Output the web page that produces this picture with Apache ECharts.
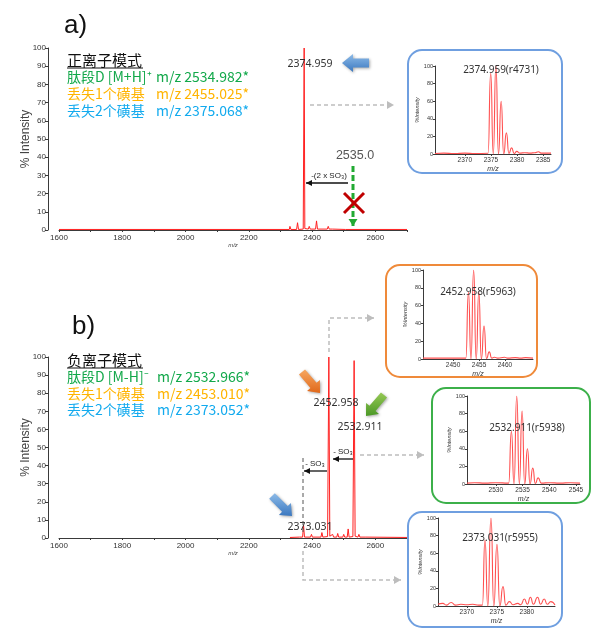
<!DOCTYPE html>
<html><head><meta charset="utf-8">
<script src="https://cdn.jsdelivr.net/npm/echarts@6/dist/echarts.min.js"></script>
<style>html,body{margin:0;padding:0;background:#fff}#c{width:600px;height:632px}</style>
</head><body><div id="c"></div>
<script>
// ---- data (m/z, % intensity) ----
const specA = [[1600,0.3],[2328,0.3],[2330,2],[2333,0.3],[2351,0.3],[2354,4],[2357,0.3],[2372,0.5],[2374.959,100],[2377,0.8],[2388,0.5],[2391,2],[2394,0.5],[2411,0.5],[2414,5],[2417,0.5],[2448,0.5],[2451,2],[2454,0.5],[2464,0.5],[2467,1.5],[2470,0.3],[2506,0.3],[2509,1],[2512,0.3],[2700,0.3]];
const specB = [[2330,0.3],[2360,0.5],[2370,0.5],[2373.031,7],[2376,0.5],[2395,0.5],[2398,2],[2401,0.5],[2428,0.5],[2431,3],[2434,0.5],[2449,0.8],[2452.958,100],[2456,1],[2462,0.5],[2465,2],[2468,0.5],[2478,0.5],[2481,2.5],[2484,0.5],[2497,0.5],[2500,2],[2503,0.5],[2511,0.5],[2514,5],[2517,0.5],[2529,0.8],[2532.911,98],[2536,1],[2545,0.5],[2548,2],[2551,0.5],[2570,0.5],[2573,1],[2576,0.3],[2700,0.3]];
const insetA = [[2364.3,0.5],[2366,1],[2368,0.5],[2370,1],[2372,0.5],[2374.45,0.8],[2374.96,92],[2375.45,0],[2375.96,100],[2376.45,0],[2376.96,60],[2377.45,0],[2377.96,24],[2378.45,0.5],[2378.96,7],[2379.45,0.5],[2379.96,3],[2380.5,1],[2381.5,1.5],[2382.5,1],[2383.4,1.5],[2384.1,2.5],[2384.6,1],[2386.5,1]];
const insetB1 = [[2444.2,1],[2446,1],[2448,1],[2450,1],[2452.45,1],[2452.96,75],[2453.45,0],[2453.96,100],[2454.45,0],[2454.96,75],[2455.45,0],[2455.96,37],[2456.45,0.5],[2456.96,8],[2457.45,1],[2457.96,2],[2458.6,1],[2459.9,2],[2460.5,1],[2462,1.5],[2463,1],[2464,1.5],[2465.4,1]];
const insetB2 = [[2524.6,1],[2526,1.5],[2528,1],[2530,1.5],[2532.4,1],[2532.91,60],[2533.4,0],[2533.91,100],[2534.4,0],[2534.91,83],[2535.4,0],[2535.91,40],[2536.4,0],[2536.91,18],[2537.4,0.5],[2537.91,7],[2538.5,1],[2540,1.5],[2542,1],[2544,1.5],[2545.75,1]];
const insetB3 = [[2365.2,2],[2366,3],[2366.6,1],[2367.4,4],[2368.1,1],[2369,2],[2370,1.5],[2371,2],[2372,1],[2372.6,1],[2373.03,75],[2373.5,0],[2374.03,100],[2374.5,0],[2375.03,70],[2375.5,0],[2376.03,22],[2376.5,1],[2377.1,5],[2377.7,1.5],[2378.5,3],[2379,1.5],[2379.6,8],[2380.1,2],[2380.6,10],[2381.1,2],[2381.8,10],[2382.3,2],[2382.9,8],[2383.4,2],[2384,5],[2384.7,1]];
const mainTicks = [1600,1800,2000,2200,2400,2600];
const ticksA = [2370,2375,2380,2385];
const ticksB1 = [2450,2455,2460];
const ticksB2 = [2530,2535,2540,2545];
const ticksB3 = [2370,2375,2380];
const peakLabelsA = ['2374.959'];
const peakLabelsB = ['2452.958','2532.911','2373.031'];
const insetTitles = ['2374.959(r4731)','2452.958(r5963)','2532.911(r5938)','2373.031(r5955)'];

const chart = echarts.init(document.getElementById('c'), null, {renderer:'canvas'});
const AX = '#3a3a3a';
function mainX(idx){return {type:'value',gridIndex:idx,min:1600,max:2700,interval:100,
  axisLine:{lineStyle:{color:AX,width:1}},axisTick:{length:2,lineStyle:{color:AX}},
  axisLabel:{interval:1,fontSize:8,color:'#333',fontFamily:'Liberation Sans',margin:4,formatter:v=>mainTicks.includes(v)?String(v):''},
  splitLine:{show:false},
  name:'m/z',nameLocation:'middle',nameGap:12,nameMoveOverlap:false,nameTextStyle:{fontSize:6,fontStyle:'italic',color:'#444',fontFamily:'Liberation Sans'}};}
function mainY(idx){return {type:'value',gridIndex:idx,min:0,max:100,interval:10,offset:11,
  axisLine:{show:true,lineStyle:{color:AX,width:1}},axisTick:{show:true,length:3,lineStyle:{color:AX}},
  axisLabel:{fontSize:8,color:'#333',fontFamily:'Liberation Sans',margin:2},splitLine:{show:false},
  name:'% Intensity',nameLocation:'middle',nameGap:16,nameMoveOverlap:false,nameRotate:90,nameTextStyle:{fontSize:12,color:'#444',fontFamily:'Liberation Sans'}};}
function insX(idx,min,max,ticks){return {type:'value',gridIndex:idx,min:min,max:max,
  axisLine:{lineStyle:{color:AX,width:1}},axisTick:{length:2,customValues:ticks,lineStyle:{color:AX}},
  axisLabel:{customValues:ticks,formatter:v=>String(v),fontSize:6.5,color:'#333',fontFamily:'Liberation Sans',margin:3},splitLine:{show:false},
  name:'m/z',nameLocation:'middle',nameGap:12,nameMoveOverlap:false,nameTextStyle:{fontSize:7,fontStyle:'italic',color:'#333',fontFamily:'Liberation Sans'}};}
function insY(idx){return {type:'value',gridIndex:idx,min:0,max:100,interval:20,
  axisLine:{show:true,lineStyle:{color:AX,width:1}},axisTick:{show:true,length:2,lineStyle:{color:AX}},
  axisLabel:{formatter:v=>String(v),fontSize:5.5,color:'#333',fontFamily:'Liberation Sans',margin:2},splitLine:{show:false},
  name:'%Intensity',nameLocation:'middle',nameGap:15,nameMoveOverlap:false,nameRotate:90,nameTextStyle:{fontSize:5.5,fontStyle:'italic',color:'#333',fontFamily:'Liberation Sans'}};}
function mainS(idx,data){return {type:'line',xAxisIndex:idx,yAxisIndex:idx,data:data,showSymbol:false,lineStyle:{color:'#ff2020',width:1},z:3};}
function insS(idx,data){return {type:'line',xAxisIndex:idx,yAxisIndex:idx,data:data,showSymbol:false,smooth:0.6,smoothMonotone:'x',lineStyle:{color:'#ff5050',width:1.1},z:3};}

// ---- annotation helpers ----
const G = [];
function txt(s,x,y,font,fill,align,extra){G.push(Object.assign({type:'text',z:10,style:{text:s,x:x,y:y,font:font,fill:fill,textAlign:align||'left',textVerticalAlign:'middle'}},extra||{}));}
function head(x2,y2,ux,uy,len,half,color){G.push({type:'polygon',z:10,shape:{points:[[x2,y2],[x2-ux*len-uy*half,y2-uy*len+ux*half],[x2-ux*len+uy*half,y2-uy*len-ux*half]]},style:{fill:color}});}
function arrowPath(pts,color,w,dash,hl,hh){
  G.push({type:'polyline',z:10,shape:{points:pts},style:{stroke:color,lineWidth:w,lineDash:dash||null,fill:null}});
  const a=pts[pts.length-2],b=pts[pts.length-1];const L=Math.hypot(b[0]-a[0],b[1]-a[1]);
  head(b[0],b[1],(b[0]-a[0])/L,(b[1]-a[1])/L,hl,hh,color);
}
function fat(x1,y1,x2,y2,sw,hw,hl,c1,c2){
  const dx=x2-x1,dy=y2-y1,L=Math.hypot(dx,dy),ux=dx/L,uy=dy/L,nx=-uy,ny=ux;
  const kx=x2-ux*hl,ky=y2-uy*hl;
  G.push({type:'polygon',z:10,shape:{points:[[x1+nx*sw/2,y1+ny*sw/2],[kx+nx*sw/2,ky+ny*sw/2],[kx+nx*hw/2,ky+ny*hw/2],[x2,y2],[kx-nx*hw/2,ky-ny*hw/2],[kx-nx*sw/2,ky-ny*sw/2],[x1-nx*sw/2,y1-ny*sw/2]]},
    style:{fill:new echarts.graphic.LinearGradient(0,0,0,1,[{offset:0,color:c1},{offset:1,color:c2}]),shadowBlur:3,shadowOffsetX:1,shadowOffsetY:1,shadowColor:'rgba(0,0,0,0.35)'}});
}
function box(x,y,w,h,color){G.push({type:'rect',z:1,shape:{x:x,y:y,width:w,height:h,r:14},style:{stroke:color,lineWidth:2,fill:'rgba(0,0,0,0)'}});}
function uline(x1,x2,y){G.push({type:'line',z:10,shape:{x1:x1,y1:y,x2:x2,y2:y},style:{stroke:'#111',lineWidth:1}});}

const CJK='"Noto Sans CJK SC"';
const GREEN='#12a84a',ORANGE='#ffb400',BLUE='#12aaee';
// panel labels
txt('a)',64,26,'26px "Liberation Sans"','#111');
txt('b)',72,327,'26px "Liberation Sans"','#111');
// legend text a
txt('正离子模式',67,60,'15px '+CJK,'#111'); uline(67,143,68);
txt('肽段D [M+H]⁺',67,77,'14px '+CJK,GREEN); txt('m/z 2534.982*',156,77,'14px '+CJK,GREEN);
txt('丢失1个磺基',67,94,'14px '+CJK,ORANGE); txt('m/z 2455.025*',156,94,'14px '+CJK,ORANGE);
txt('丢失2个磺基',67,111,'14px '+CJK,BLUE); txt('m/z 2375.068*',156,111,'14px '+CJK,BLUE);
// legend text b
txt('负离子模式',67,360,'15px '+CJK,'#111'); uline(67,143,368);
txt('肽段D [M-H]⁻',67,377,'14px '+CJK,GREEN); txt('m/z 2532.966*',157,377,'14px '+CJK,GREEN);
txt('丢失1个磺基',67,394,'14px '+CJK,ORANGE); txt('m/z 2453.010*',157,394,'14px '+CJK,ORANGE);
txt('丢失2个磺基',67,410,'14px '+CJK,BLUE); txt('m/z 2373.052*',157,410,'14px '+CJK,BLUE);
// peak labels
const LF='10.5px "Noto Sans"';
txt(peakLabelsA[0],310,64,LF,'#333','center');
txt(peakLabelsB[0],336,403,LF,'#333','center');
txt(peakLabelsB[1],360,427,LF,'#333','center');
txt(peakLabelsB[2],310,527,LF,'#333','center');
// panel a annotations
fat(369,63,342,63,9,18,11,'#8dbbe8','#3b78c0');
arrowPath([[310,105],[394,105]],'#bdbdbd',1.5,[4,3],7,4);
txt('2535.0',355,156,'12.5px "Liberation Sans"','#555','center');
arrowPath([[353,166],[353,226]],'#22aa33',3,[6,3],7,4.5);
G.push({type:'line',z:11,shape:{x1:344,y1:193,x2:364,y2:213},style:{stroke:'#c00000',lineWidth:3}});
G.push({type:'line',z:11,shape:{x1:364,y1:193,x2:344,y2:213},style:{stroke:'#c00000',lineWidth:3}});
arrowPath([[348,183],[306,183]],'#111',1.3,null,6,3);
txt('-(2 x SO₃)',329,176,'8px "Liberation Sans"','#222','center');
// panel b annotations
fat(302,372,320,393,8,17,10,'#f7a862','#e0681a');
fat(384,395,366,416,8,17,10,'#96c955','#4b9826');
fat(272,496,292,516,8,17,10,'#8dbbe8','#3b78c0');
arrowPath([[329,352],[329,318],[374,318]],'#bdbdbd',1.5,[4,3],7,4);
arrowPath([[360,455],[424,455]],'#bdbdbd',1.5,[4,3],7,4);
arrowPath([[303,551],[303,580],[401,580]],'#bdbdbd',1.5,[4,3],7,4);
G.push({type:'line',z:10,shape:{x1:303,y1:458,x2:303,y2:534},style:{stroke:'#555',lineWidth:1,lineDash:[4,3]}});
arrowPath([[353,459],[333,459]],'#111',1.3,null,6,3);
txt('- SO₃',343,452,'8px "Liberation Sans"','#222','center');
arrowPath([[327,471],[304,471]],'#111',1.3,null,6,3);
txt('- SO₃',315,464,'8px "Liberation Sans"','#222','center');
// inset boxes
box(408,50,154,123,'#6f9fe0');
box(386,265,151,112,'#ef8a3a');
box(432,388,158,115,'#3cb04a');
box(408,512,154,115,'#6f9fe0');
const TF='10px "Noto Sans"';
txt(insetTitles[0],501,70,TF,'#333','center');
txt(insetTitles[1],478,292,TF,'#333','center');
txt(insetTitles[2],527,428,TF,'#333','center');
txt(insetTitles[3],500,538,TF,'#333','center');

chart.setOption({
  animation:false,
  grid:[
    {left:59,top:48,width:348,height:182},
    {left:59,top:357,width:348,height:181},
    {left:435,top:66,width:116,height:88},
    {left:423,top:270,width:110,height:89},
    {left:467,top:396,width:113,height:88},
    {left:438,top:518,width:117,height:88}
  ],
  xAxis:[mainX(0),mainX(1),insX(2,2364.3,2386.5,ticksA),insX(3,2444.2,2465.4,ticksB1),insX(4,2524.6,2545.75,ticksB2),insX(5,2365.2,2384.7,ticksB3)],
  yAxis:[mainY(0),mainY(1),insY(2),insY(3),insY(4),insY(5)],
  series:[mainS(0,specA),mainS(1,specB),insS(2,insetA),insS(3,insetB1),insS(4,insetB2),insS(5,insetB3)],
  graphic:{elements:G}
});
</script></body></html>
